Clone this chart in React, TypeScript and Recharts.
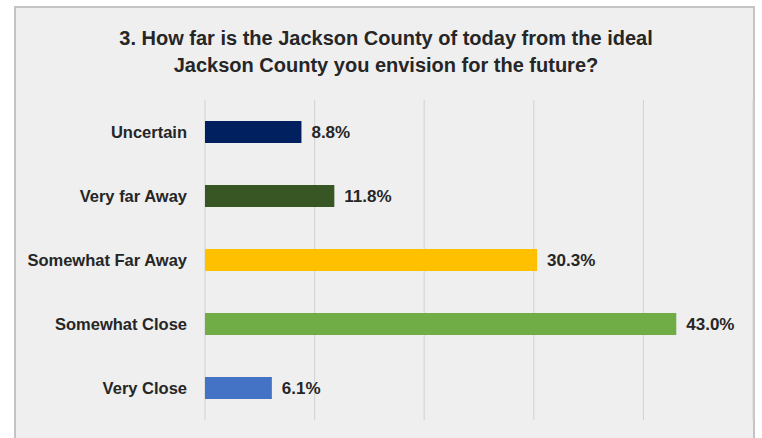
import React from 'react';
import { BarChart, Bar, XAxis, YAxis, CartesianGrid, Cell, LabelList } from 'recharts';

const categories = ['Uncertain', 'Very far Away', 'Somewhat Far Away', 'Somewhat Close', 'Very Close'];
const values = [8.8, 11.8, 30.3, 43.0, 6.1];
const colors = ['#002060', '#375623', '#FFC000', '#70AD47', '#4472C4'];
const xTicks = [0, 10, 20, 30, 40, 50];
const xDomain = [0, 50];
const titleLines = ['3. How far is the Jackson County of today from the ideal', 'Jackson County you envision for the future?'];

const data = categories.map((name, i) => ({ name, value: values[i] }));

const FONT = '"Liberation Sans", Arial, sans-serif';

function gridX(args: any): number[] {
  const s = args?.xAxis?.scale;
  const off = args?.offset;
  return xTicks.map((t) => {
    if (typeof s === 'function') return s(t);
    if (s && typeof s.map === 'function') return s.map(t);
    return off.left + (off.width * (t - xDomain[0])) / (xDomain[1] - xDomain[0]);
  });
}

export default function App() {
  return (
    <div style={{ position: 'absolute', left: 0, top: 0, width: 762, height: 438, background: '#ffffff', overflow: 'hidden', fontFamily: FONT }}>
      <div
        style={{
          position: 'absolute',
          left: 14,
          top: 6,
          width: 741,
          height: 445,
          border: '2px solid #c4c4c4',
          background: '#efefef',
          boxSizing: 'border-box',
        }}
      />
      <div
        style={{
          position: 'absolute',
          left: 10,
          top: 25,
          width: 752,
          textAlign: 'center',
          fontSize: 20,
          lineHeight: '27px',
          fontWeight: 'bold',
          color: '#262626',
        }}
      >
        {titleLines.map((t) => (
          <div key={t}>{t}</div>
        ))}
      </div>
      <div style={{ position: 'absolute', left: 0, top: 0 }}>
        <BarChart
          width={762}
          height={438}
          data={data}
          layout="vertical"
          margin={{ top: 100, right: 9, bottom: 0, left: 0 }}
          barCategoryGap={0}
        >
          <CartesianGrid
            horizontal={false}
            vertical={true}
            stroke="#d6d6d6"
            strokeWidth={1.2}
            verticalCoordinatesGenerator={gridX}
          />
          <XAxis
            type="number"
            domain={xDomain}
            ticks={xTicks}
            tick={false}
            axisLine={false}
            tickLine={false}
            height={18}
          />
          <YAxis
            type="category"
            dataKey="name"
            width={205}
            axisLine={false}
            tickLine={false}
            tickMargin={12}
            interval={0}
            tick={{ fill: '#262626', fontSize: 16.5, fontWeight: 'bold', fontFamily: FONT }}
          />
          <Bar dataKey="value" barSize={22} isAnimationActive={false}>
            {data.map((d, i) => (
              <Cell key={d.name} fill={colors[i]} />
            ))}
            <LabelList
              dataKey="value"
              position="right"
              offset={10}
              formatter={(v: number) => `${Number(v).toFixed(1)}%`}
              style={{ fill: '#262626', fontSize: 17, fontWeight: 'bold', fontFamily: FONT }}
            />
          </Bar>
        </BarChart>
      </div>
    </div>
  );
}
